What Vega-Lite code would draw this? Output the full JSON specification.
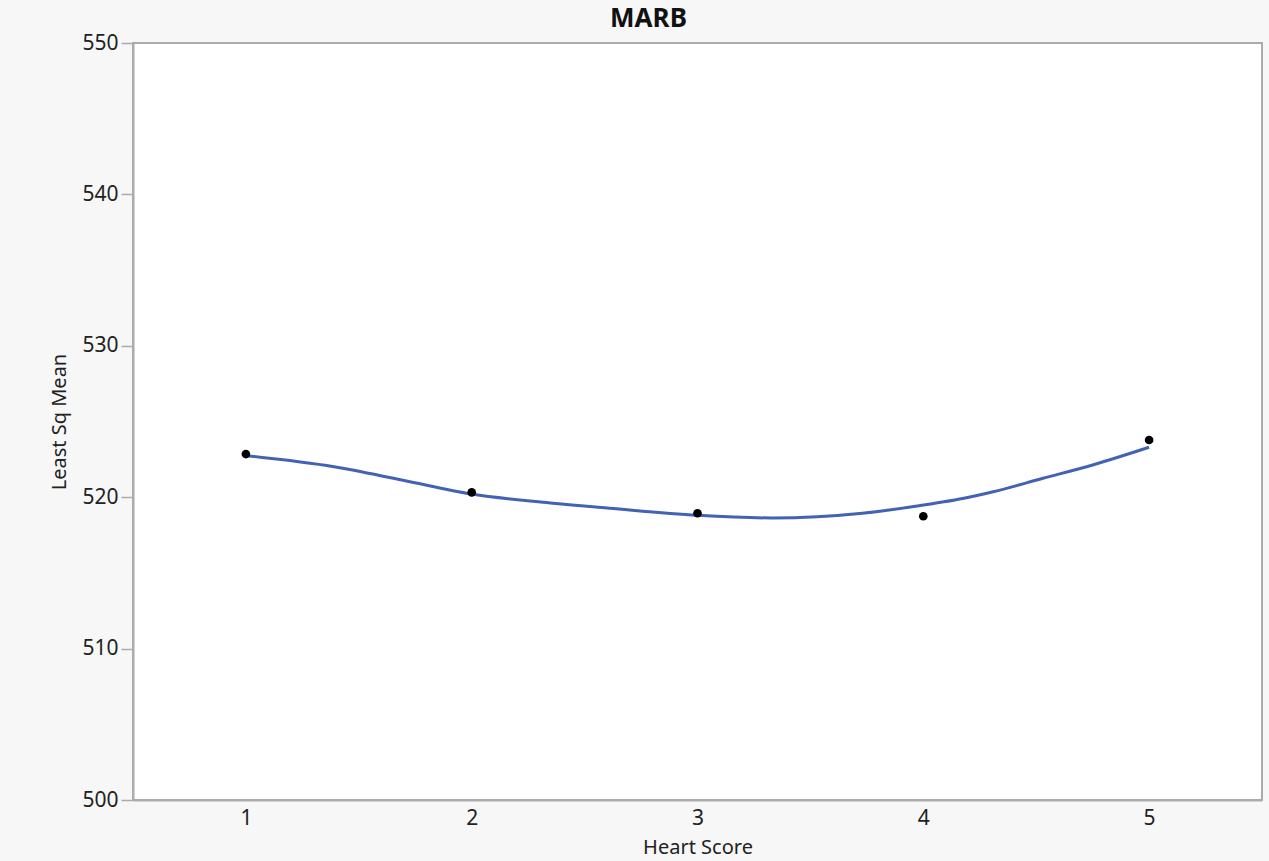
{
  "$schema": "https://vega.github.io/schema/vega-lite/v6.json",
  "autosize": {"type": "none"},
  "width": 1129,
  "height": 757,
  "padding": {"left": 133, "top": 43, "right": 7, "bottom": 61},
  "background": "#f7f7f7",
  "title": {
    "text": "MARB",
    "font": "Noto Sans",
    "fontSize": 26,
    "fontWeight": "bold",
    "color": "#111111",
    "anchor": "middle",
    "frame": "group",
    "baseline": "alphabetic",
    "offset": -21,
    "dx": -49
  },
  "datasets": {
    "fit": [
      {"heart": 1.0, "lsm": 522.74},
      {"heart": 1.39, "lsm": 522.01},
      {"heart": 1.69, "lsm": 521.14},
      {"heart": 2.0, "lsm": 520.21},
      {"heart": 2.36, "lsm": 519.6},
      {"heart": 2.61, "lsm": 519.27},
      {"heart": 3.0, "lsm": 518.8},
      {"heart": 3.33, "lsm": 518.63},
      {"heart": 3.73, "lsm": 518.94},
      {"heart": 3.95, "lsm": 519.37},
      {"heart": 4.18, "lsm": 519.93},
      {"heart": 4.31, "lsm": 520.36},
      {"heart": 4.53, "lsm": 521.25},
      {"heart": 4.75, "lsm": 522.13},
      {"heart": 5.0, "lsm": 523.3}
    ],
    "means": [
      {"heart": 1, "lsm": 522.85},
      {"heart": 2, "lsm": 520.32},
      {"heart": 3, "lsm": 518.94},
      {"heart": 4, "lsm": 518.74},
      {"heart": 5, "lsm": 523.78}
    ]
  },
  "encoding": {
    "x": {
      "field": "heart",
      "type": "quantitative",
      "title": "Heart Score",
      "scale": {"domain": [0.5, 5.5], "nice": false, "zero": false},
      "axis": {"values": [1, 2, 3, 4, 5], "format": "d", "ticks": false, "labelPadding": 7, "titlePadding": 9}
    },
    "y": {
      "field": "lsm",
      "type": "quantitative",
      "title": "Least Sq Mean",
      "scale": {"domain": [500, 550], "nice": false, "zero": false},
      "axis": {"values": [500, 510, 520, 530, 540, 550], "tickSize": 12, "labelPadding": 3, "titlePadding": 12}
    }
  },
  "layer": [
    {
      "data": {"name": "fit"},
      "mark": {"type": "line", "interpolate": "monotone", "color": "#4262b4", "strokeWidth": 3}
    },
    {
      "data": {"name": "means"},
      "mark": {"type": "circle", "color": "#000000", "size": 75, "opacity": 1}
    }
  ],
  "config": {
    "view": {"fill": "#ffffff", "stroke": "#ababab", "strokeWidth": 2},
    "axis": {
      "grid": false,
      "domainColor": "#ababab",
      "domainWidth": 2,
      "tickColor": "#ababab",
      "tickWidth": 1.5,
      "labelFont": "Noto Sans",
      "labelFontSize": 21,
      "labelColor": "#222222",
      "titleFont": "Noto Sans",
      "titleFontSize": 20,
      "titleFontWeight": "normal",
      "titleColor": "#222222"
    }
  }
}
